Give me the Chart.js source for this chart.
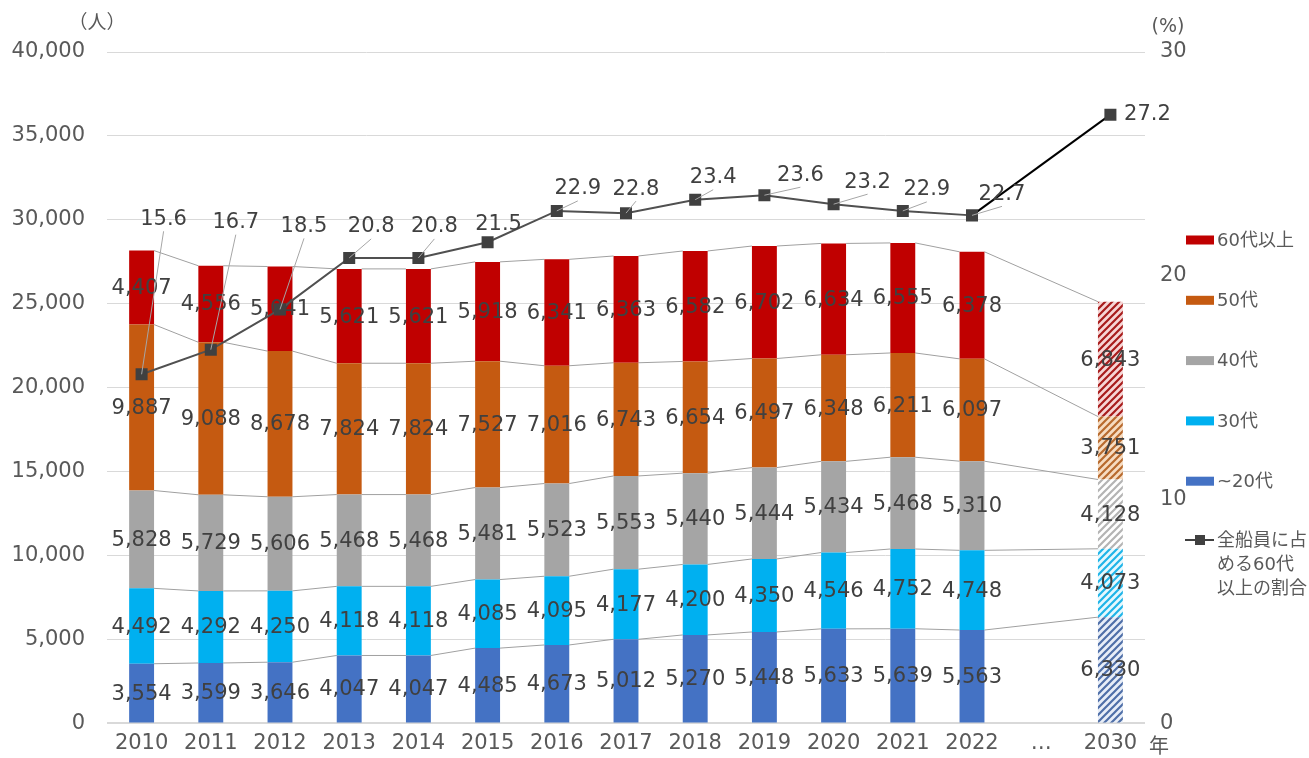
<!DOCTYPE html>
<html lang="ja">
<head>
<meta charset="utf-8">
<script src="https://cdn.jsdelivr.net/npm/chart.js@4/dist/chart.umd.min.js"></script>
<style>
html, body { margin: 0; padding: 0; background: #fff; }
#wrap { width: 1309px; height: 758px; }
</style>
</head>
<body>
<div id="wrap"><canvas id="crewChart"></canvas></div>
<script>
// 年別・年齢階層別の船員数（人）と60代以上の割合（%）
const years = ["2010", "2011", "2012", "2013", "2014", "2015", "2016", "2017", "2018", "2019", "2020", "2021", "2022", "…", "2030"];
const age20 = [3554, 3599, 3646, 4047, 4047, 4485, 4673, 5012, 5270, 5448, 5633, 5639, 5563, null, 6330];
const age30 = [4492, 4292, 4250, 4118, 4118, 4085, 4095, 4177, 4200, 4350, 4546, 4752, 4748, null, 4073];
const age40 = [5828, 5729, 5606, 5468, 5468, 5481, 5523, 5553, 5440, 5444, 5434, 5468, 5310, null, 4128];
const age50 = [9887, 9088, 8678, 7824, 7824, 7527, 7016, 6743, 6654, 6497, 6348, 6211, 6097, null, 3751];
const age60 = [4407, 4556, 5041, 5621, 5621, 5918, 6341, 6363, 6582, 6702, 6634, 6555, 6378, null, 6843];
const ratio60 = [15.6, 16.7, 18.5, 20.8, 20.8, 21.5, 22.9, 22.8, 23.4, 23.6, 23.2, 22.9, 22.7, null, 27.2];
const leftTicks = [0, 5000, 10000, 15000, 20000, 25000, 30000, 35000, 40000];
const rightTicks = [0, 10, 20, 30];

// 割合ラベルの位置（点からのずらし, px）
const ratioLabelShift = [[22, -155], [25, -127], [24, -83], [22, -31], [16, -31], [11, -18], [21, -22], [10, -24], [18, -22], [36, -20], [34, -22], [24, -21], [30, -21], null, [37, 0]];

const FONT = "'DejaVu Sans', 'Noto Sans CJK JP', sans-serif";
const TXT = "#404040";
const AXIS_TXT = "#595959";

const colors = {
	a60: "#C00000",
	a50: "#C55A11",
	a40: "#A5A5A5",
	a30: "#00B0F0",
	a20: "#4472C4",
};

function hatch(fg, bg) {
	const s = 7;
	const c = document.createElement("canvas");
	c.width = s;
	c.height = s;
	const x = c.getContext("2d");
	x.fillStyle = bg;
	x.fillRect(0, 0, s, s);
	x.strokeStyle = fg;
	x.lineWidth = 2.2;
	x.beginPath();
	x.moveTo(0, s); x.lineTo(s, 0);
	x.moveTo(-1, 1); x.lineTo(1, -1);
	x.moveTo(s - 1, s + 1); x.lineTo(s + 1, s - 1);
	x.stroke();
	return x.createPattern(c, "repeat");
}

const lastIdx = years.length - 1;
function fill(solid, pattern) {
	return (ctx) => (ctx.dataIndex === lastIdx ? pattern : solid);
}

function barSet(label, data, col, pattern) {
	return {
		type: "bar",
		label: label,
		data: data,
		backgroundColor: fill(col, pattern),
		borderWidth: 0,
		barPercentage: 0.36,
		categoryPercentage: 1,
		yAxisID: "y",
		stack: "crew",
		order: 1,
	};
}

// 系列線（各積み上げの上端を隣の棒と結ぶ）
const seriesLines = {
	id: "seriesLines",
	beforeDatasetsDraw(chart) {
		const ctx = chart.ctx;
		ctx.save();
		ctx.strokeStyle = "#a0a0a0";
		ctx.lineWidth = 1;
		chart.data.datasets.forEach((ds, di) => {
			if (ds.type !== "bar") return;
			const meta = chart.getDatasetMeta(di);
			let prev = null;
			meta.data.forEach((el, i) => {
				if (ds.data[i] == null) return;
				const p = el.getProps(["x", "y", "width"], true);
				if (prev) {
					ctx.beginPath();
					ctx.moveTo(prev.x + prev.width / 2, prev.y);
					ctx.lineTo(p.x - p.width / 2, p.y);
					ctx.stroke();
				}
				prev = p;
			});
		});
		ctx.restore();
	},
	afterDatasetDraw(chart, args) {
		const ds = chart.data.datasets[args.index];
		if (ds.type !== "bar") return;
		const ctx = chart.ctx;
		ctx.save();
		ctx.font = "21px " + FONT;
		ctx.fillStyle = TXT;
		ctx.textAlign = "center";
		ctx.textBaseline = "middle";
		args.meta.data.forEach((el, i) => {
			const v = ds.data[i];
			if (v == null) return;
			const p = el.getProps(["x", "y", "base"], true);
			ctx.fillText(v.toLocaleString("en-US"), p.x, (p.y + p.base) / 2 + 1);
		});
		ctx.restore();
	},
};

// 割合のラベル・引出線、凡例、単位
const extras = {
	id: "extras",
	afterDatasetsDraw(chart) {
		const ctx = chart.ctx;
		const di = chart.data.datasets.findIndex((d) => d.type === "line");
		const meta = chart.getDatasetMeta(di);
		ctx.save();
		ctx.font = "21px " + FONT;
		meta.data.forEach((el, i) => {
			const v = ratio60[i];
			const sh = ratioLabelShift[i];
			if (v == null || !sh) return;
			const lx = el.x + sh[0];
			const ly = el.y + sh[1];
			if (Math.abs(sh[1]) >= 20) {
				ctx.strokeStyle = "#a6a6a6";
				ctx.lineWidth = 1;
				ctx.beginPath();
				ctx.moveTo(lx, ly + 12);
				ctx.lineTo(el.x, el.y);
				ctx.stroke();
			}
			ctx.fillStyle = TXT;
			ctx.textAlign = "center";
			ctx.textBaseline = "middle";
			ctx.fillText(v.toFixed(1), lx, ly);
		});
		ctx.restore();
	},
	afterDraw(chart) {
		const ctx = chart.ctx;
		ctx.save();
		ctx.fillStyle = AXIS_TXT;
		ctx.textBaseline = "middle";
		ctx.textAlign = "center";
		ctx.font = "19px " + FONT;
		ctx.fillText("（人）", 97, 24);
		ctx.fillText("(%)", 1168, 27);
		ctx.font = "20px " + FONT;
		ctx.fillText("年", 1159, 748);

		// 凡例
		const items = [
			["60代以上", colors.a60],
			["50代", colors.a50],
			["40代", colors.a40],
			["30代", colors.a30],
			["~20代", colors.a20],
		];
		ctx.font = "18px " + FONT;
		ctx.textAlign = "left";
		items.forEach((it, k) => {
			const y = 240 + k * 60.3;
			ctx.fillStyle = it[1];
			ctx.fillRect(1186, y - 4.5, 28, 9);
			ctx.fillStyle = AXIS_TXT;
			ctx.fillText(it[0], 1217, y + 1);
		});
		ctx.strokeStyle = "#404040";
		ctx.lineWidth = 2;
		ctx.beginPath();
		ctx.moveTo(1185, 540);
		ctx.lineTo(1214, 540);
		ctx.stroke();
		ctx.fillStyle = "#404040";
		ctx.fillRect(1195, 535, 10, 10);
		ctx.fillStyle = AXIS_TXT;
		["全船員に占", "める60代", "以上の割合"].forEach((t, k) => {
			ctx.fillText(t, 1217, 541 + k * 24);
		});
		ctx.restore();
	},
};

Chart.defaults.font.family = FONT;
Chart.defaults.color = AXIS_TXT;

const crewChart = new Chart(document.getElementById("crewChart"), {
	data: {
		labels: years,
		datasets: [
			barSet("~20代", age20, colors.a20, hatch("#4f6fa8", "#e8eef8")),
			barSet("30代", age30, colors.a30, hatch("#1fb4e8", "#e6f8fe")),
			barSet("40代", age40, colors.a40, hatch("#b4b4b4", "#ffffff")),
			barSet("50代", age50, colors.a50, hatch("#b86a2e", "#f6dcc2")),
			barSet("60代以上", age60, colors.a60, hatch("#a81c1c", "#f6d6d6")),
			{
				type: "line",
				label: "全船員に占める60代以上の割合",
				data: ratio60,
				yAxisID: "y1",
				spanGaps: true,
				borderColor: "#505050",
				borderWidth: 2,
				segment: {
					borderColor: (c) => (c.p1DataIndex === lastIdx ? "#000000" : "#505050"),
				},
				pointStyle: "rect",
				pointRadius: 8.5,
				pointBackgroundColor: "#404040",
				pointBorderColor: "#404040",
				pointBorderWidth: 0,
				order: 0,
			},
		],
	},
	options: {
		responsive: true,
		maintainAspectRatio: false,
		animation: false,
		layout: { padding: { top: 52, left: 0, right: 0, bottom: 0 } },
		plugins: {
			legend: { display: false },
			tooltip: { enabled: false },
		},
		scales: {
			x: {
				stacked: true,
				grid: { display: false, drawTicks: false },
				border: { display: false },
				ticks: { font: { size: 21 }, color: AXIS_TXT, padding: 8, maxRotation: 0, autoSkip: false },
				afterFit: (s) => { s.height = 30; },
			},
			y: {
				stacked: true,
				position: "left",
				min: 0,
				max: 40000,
				afterBuildTicks: (s) => { s.ticks = leftTicks.map((v) => ({ value: v })); },
				ticks: { font: { size: 21 }, color: AXIS_TXT, padding: 22, callback: (v) => v.toLocaleString("en-US") },
				grid: {
					color: "#d9d9d9",
					lineWidth: (c) => (c.tick && c.tick.value === 0 ? 2 : 1),
					drawTicks: false,
				},
				border: { display: false },
				afterFit: (s) => { s.width = 107; },
			},
			y1: {
				position: "right",
				min: 0,
				max: 30,
				afterBuildTicks: (s) => { s.ticks = rightTicks.map((v) => ({ value: v })); },
				ticks: { font: { size: 21 }, color: AXIS_TXT, padding: 15 },
				grid: { display: false, drawTicks: false },
				border: { display: false },
				afterFit: (s) => { s.width = 164; },
			},
		},
	},
	plugins: [seriesLines, extras],
});
</script>
</body>
</html>
